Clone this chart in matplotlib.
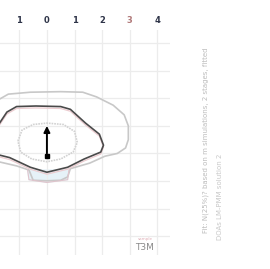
import numpy as np
import matplotlib
matplotlib.use("Agg")
import matplotlib.pyplot as plt

# tick labels along the top
x_ticks = [-1, 0, 1, 2, 3, 4]
x_tick_labels = ["1", "0", "1", "2", "3", "4"]
y_ticks = [0, 1, 2, 3, 4, 5, 6, 7]

# contour outlines (data units)
outer_x = [-1.75, -1.4, -0.6, 0.5, 1.3, 1.8, 2.4, 2.8, 2.95, 2.95, 2.85, 2.55, 2.1, 1.55, 0.85, 0.75, 0.5, 0.0, -0.5, -0.65, -1.1, -1.75]
outer_y = [2.05, 1.85, 1.78, 1.76, 1.78, 1.95, 2.25, 2.6, 3.0, 3.5, 3.8, 4.0, 4.1, 4.35, 4.55, 4.85, 4.97, 4.99, 4.97, 4.6, 4.45, 4.3]

dark_x = [-1.75, -1.45, -1.1, -0.4, 0.5, 0.85, 1.4, 1.9, 2.05, 1.95, 1.35, 0.75, 0.0, -0.6, -1.35, -1.75]
dark_y = [2.95, 2.5, 2.3, 2.28, 2.3, 2.4, 2.9, 3.3, 3.7, 3.95, 4.2, 4.5, 4.68, 4.5, 4.15, 4.05]

inner_x = [-1.05, -0.9, -0.5, 0.0, 0.6, 1.0, 1.1, 0.95, 0.5, 0.0, -0.55, -0.95, -1.05]
inner_y = [3.55, 3.15, 2.95, 2.9, 2.95, 3.2, 3.6, 3.95, 4.2, 4.3, 4.2, 3.95, 3.55]

cup_x = [-0.7, -0.65, 0.0, 0.75, 0.8]
cup_y = [4.6, 4.95, 5.05, 4.95, 4.6]

arrow_x = [0.0, 0.0]
arrow_y = [4.1, 2.9]

fig = plt.figure(figsize=(2.70, 2.69), dpi=100)
ax = fig.add_axes([0, 0.052, 170 / 270, 0.836])
ax.set_xlim(-1.70, 4.46)
ax.set_ylim(7.68, -0.47)

ax.set_xticks(x_ticks)
ax.set_xticklabels(x_tick_labels)
ax.set_yticks(y_ticks)
ax.xaxis.tick_top()
ax.tick_params(axis="x", length=0, pad=4, labelsize=6, colors="#2e3448")
ax.tick_params(axis="y", length=0, labelleft=False)
for lbl in ax.get_xticklabels():
    lbl.set_fontweight("bold")
ax.get_xticklabels()[4].set_color("#b07878")
ax.grid(True, color="#ececec", linewidth=0.9)
for s in ax.spines.values():
    s.set_visible(False)

ax.fill(cup_x, cup_y, color="#e6f2f8", zorder=1)
ax.plot(outer_x, outer_y, color="#c8c8c8", lw=1.2, zorder=2)
ax.plot(np.array(dark_x), np.array(dark_y) + 0.07, color="#ecccd0", lw=0.9, zorder=2)
ax.plot(dark_x, dark_y, color="#4a4a4a", lw=1.2, zorder=3)
ax.plot(inner_x, inner_y, color="#d2d2d2", lw=1.2, ls=(0, (1, 0.6)), zorder=2)
ax.plot(cup_x, cup_y, color="#e0c4cc", lw=0.8, zorder=2)

ax.annotate("", xy=(arrow_x[1], arrow_y[1]), xytext=(arrow_x[0], arrow_y[0]),
            arrowprops=dict(arrowstyle="-|>", color="black", lw=1.4, mutation_scale=9),
            zorder=5)
ax.plot(arrow_x[0], arrow_y[0], "s", color="black", ms=2.3, zorder=5)

fig.text(145 / 270, 1 - 248 / 269, "T3M", fontsize=6.5, color="#8a8a8a",
         ha="center", va="center")
fig.text(145 / 270, 1 - 239 / 269, "sample", fontsize=3, color="#e0b0b8",
         ha="center", va="center")

fig.text(206 / 270, 1 - 233 / 269,
         "Fit: N(25%)? based on m simulations, 2 stages, fitted",
         fontsize=5, color="#bcbcbc", rotation=90, ha="center", va="bottom")
fig.text(220 / 270, 1 - 240 / 269, "DOAs LM-PMM solution 2",
         fontsize=5, color="#c8c8c8", rotation=90, ha="center", va="bottom")

fig.savefig("out.png", dpi=100)
